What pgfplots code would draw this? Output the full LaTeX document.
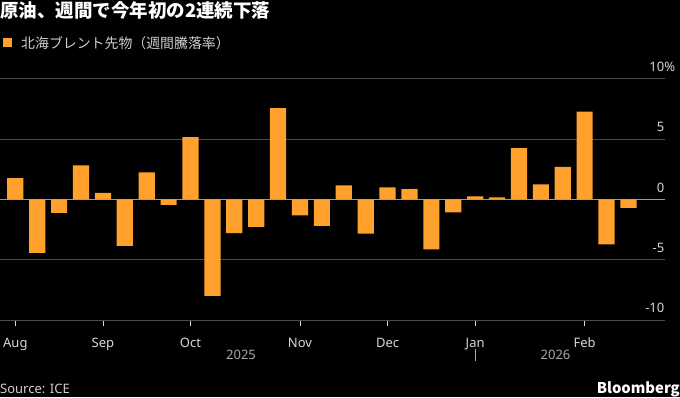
\documentclass[border=0pt]{standalone}
\usepackage{pgfplots}
\pgfplotsset{compat=1.18}
\usepackage{fontspec}
\setmainfont{Noto Sans CJK JP}
\newfontfamily\latin{Noto Sans}
\definecolor{barorange}{HTML}{FFA12C}
\definecolor{gridgray}{HTML}{4A4A4A}
\definecolor{zerogray}{HTML}{9A9A9A}
\definecolor{labelgray}{HTML}{D8D8D8}
\definecolor{yeargray}{HTML}{A8A8A8}
\definecolor{legendgray}{HTML}{CFCFCF}
\begin{document}
\begin{tikzpicture}
\fill[black] (0,0) rectangle (680pt,397pt);
\path[use as bounding box] (0,0) rectangle (680pt,397pt);
\begin{axis}[
  at={(0pt,76.7pt)}, anchor=south west,
  width=665pt, height=241.8pt, scale only axis,
  xmin=-0.7, xmax=29.67, ymin=-10, ymax=10,
  axis x line*=bottom, axis y line*=right,
  x axis line style={draw=gridgray, line width=0.9pt, -},
  y axis line style={draw=none},
  ytick={-10,-5,0,5,10},
  yticklabels={-10,-5,0,5,10\rlap{\%}},
  ytick style={draw=none},
  yticklabel pos=right,
  yticklabel style={anchor=south east, inner sep=0pt, yshift=7pt, xshift=-0.5pt, font=\latin\fontsize{13}{14}\selectfont, text=labelgray},
  xtick={0,4,8,13,17,21,26},
  xticklabels={Aug,Sep,Oct,Nov,Dec,Jan,Feb},
  xtick align=outside,
  major tick length=6pt,
  xtick style={draw=labelgray, line width=0.8pt},
  xticklabel style={anchor=base, inner sep=0pt, yshift=-21pt, font=\latin\fontsize{13}{14}\selectfont, text=labelgray},
  ymajorgrids,
  grid style={gridgray, line width=0.9pt},
  extra y ticks={0},
  extra y tick labels={},
  extra y tick style={grid style={zerogray, line width=1.2pt}},
  ybar, bar width=16.2pt, bar shift=0pt,
  /pgf/number format/assume math mode=true,
]
\addplot[fill=barorange, draw=none] coordinates {
(0,1.77) (1,-4.43) (2,-1.12) (3,2.81) (4,0.53) (5,-3.85) (6,2.23) (7,-0.46)
(8,5.16) (9,-7.98) (10,-2.78) (11,-2.28) (12,7.55) (13,-1.32) (14,-2.2)
(15,1.16) (16,-2.83) (17,0.99) (18,0.86) (19,-4.13) (20,-1.07) (21,0.25)
(22,0.17) (23,4.25) (24,1.24) (25,2.7) (26,7.27) (27,-3.72) (28,-0.71)
};
\end{axis}
% title
\node[anchor=base west, inner sep=0pt, text=white, font=\fontsize{18.5}{20}\selectfont\bfseries] at (0pt,379pt) {原油、週間で今年初の2連続下落};
% legend
\fill[barorange] (2.7pt,350pt) rectangle (12.3pt,359pt);
\node[anchor=base west, inner sep=0pt, text=legendgray, font=\fontsize{13.9}{15}\selectfont] at (21pt,348.5pt) {北海ブレント先物（週間騰落率）};
% years
\node[anchor=base, inner sep=0pt, text=yeargray, font=\latin\fontsize{13}{14}\selectfont] at (241pt,38pt) {2025};
\node[anchor=base, inner sep=0pt, text=yeargray, font=\latin\fontsize{13}{14}\selectfont] at (555.5pt,38pt) {2026};
\draw[yeargray, line width=0.8pt] (475pt,36pt) -- (475pt,48pt);
% footer
\node[anchor=base west, inner sep=0pt, text=legendgray, font=\latin\fontsize{13}{14}\selectfont] at (0pt,3.7pt) {Source: ICE};
\node[anchor=base east, inner sep=0pt, text=white, font=\fontsize{14.8}{16}\selectfont\bfseries] at (680pt,3.7pt) {Bloomberg};
\end{tikzpicture}
\end{document}
